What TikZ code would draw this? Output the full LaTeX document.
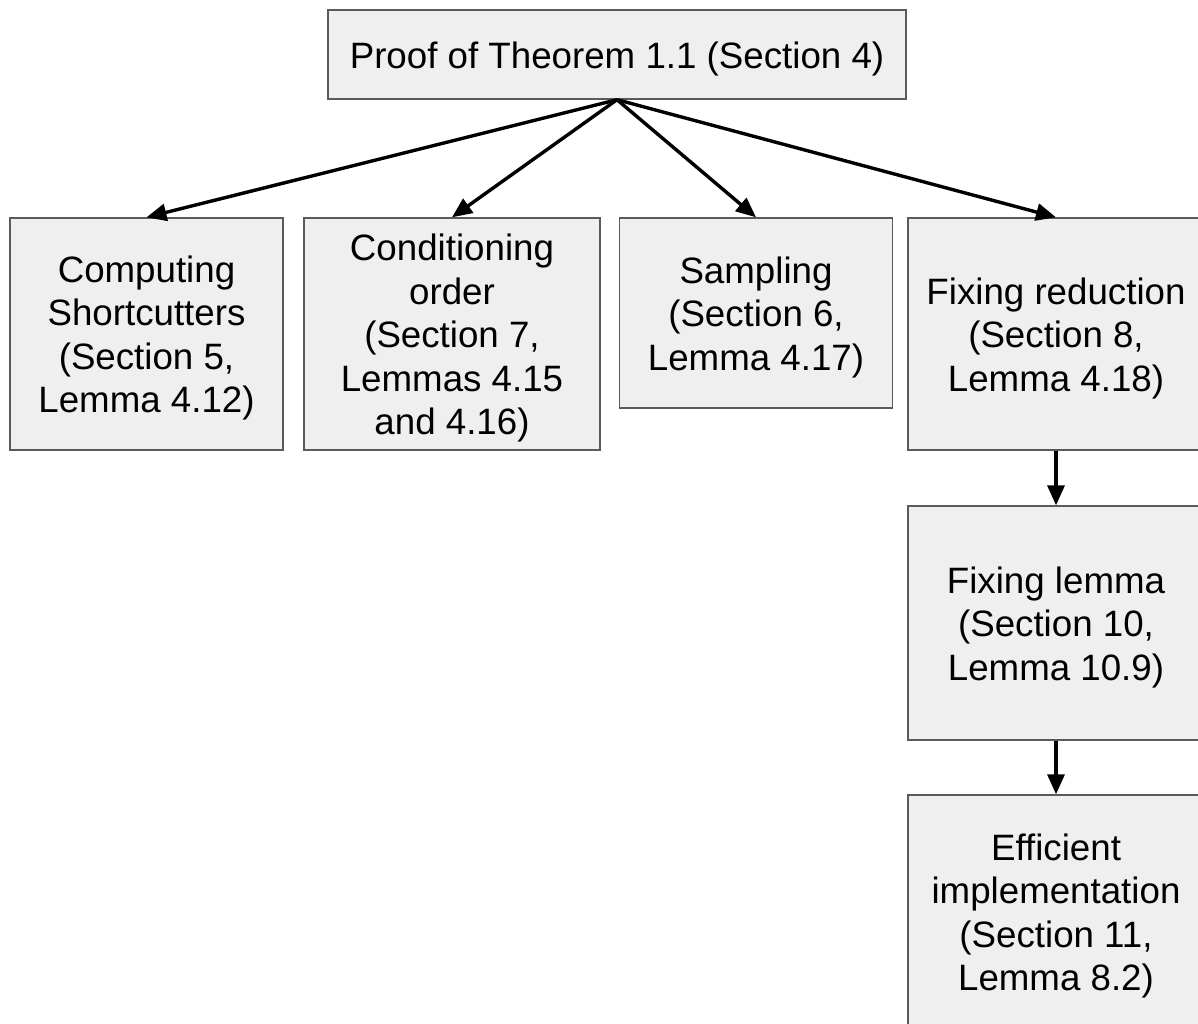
\documentclass[tikz,border=0pt]{standalone}
\usepackage{fontspec}
\setmainfont{Liberation Sans}
\usetikzlibrary{arrows.meta}

\definecolor{boxfill}{HTML}{EFEFEF}
\definecolor{boxline}{HTML}{5A5A5A}

% a taller first line lowers the text block a little inside its box
\newcommand{\firstline}{\rule{0pt}{35pt}}

\tikzset{
  stepbox/.style={draw=boxline, line width=1.4pt, fill=boxfill,
    align=center, inner sep=0pt,
    font=\fontsize{36.7}{43.5}\selectfont},
  link/.style={line width=3.4pt, -{Triangle[length=20pt,width=17pt]}},
}

\begin{document}
\begin{tikzpicture}[x=1pt, y=-1pt]
  \useasboundingbox (0,0) rectangle (1198,1023);
  \clip (0,0) rectangle (1198,1023);

  % main result
  \node[stepbox, minimum width=578pt, minimum height=89pt] (proof) at (617,54.5)
    {\firstline Proof of Theorem 1.1 (Section 4)};

  % first-level components
  \node[stepbox, minimum width=273pt, minimum height=232pt] (shortcut) at (146.5,334)
    {\firstline Computing\\Shortcutters\\(Section 5,\\Lemma 4.12)};
  \node[stepbox, minimum width=296pt, minimum height=232pt] (cond) at (452,334)
    {\firstline Conditioning\\order\\(Section 7,\\Lemmas 4.15\\and 4.16)};
  \node[stepbox, minimum width=273pt, minimum height=190pt] (sampling) at (756,313)
    {\firstline Sampling\\(Section 6,\\Lemma 4.17)};
  \node[stepbox, minimum width=296pt, minimum height=232pt] (fixred) at (1056,334)
    {\firstline Fixing reduction\\(Section 8,\\Lemma 4.18)};

  % chain below the fixing reduction
  \node[stepbox, minimum width=296pt, minimum height=234pt] (fixlem) at (1056,623)
    {\firstline Fixing lemma\\(Section 10,\\Lemma 10.9)};
  \node[stepbox, minimum width=296pt, minimum height=234pt] (effimpl) at (1056,912)
    {\firstline Efficient\\implementation\\(Section 11,\\Lemma 8.2)};

  % connectors
  \draw[link] (proof.south) -- (shortcut.north);
  \draw[link] (proof.south) -- (cond.north);
  \draw[link] (proof.south) -- (sampling.north);
  \draw[link] (proof.south) -- (fixred.north);
  \draw[link] (fixred.south) -- (fixlem.north);
  \draw[link] (fixlem.south) -- (effimpl.north);
\end{tikzpicture}
\end{document}
